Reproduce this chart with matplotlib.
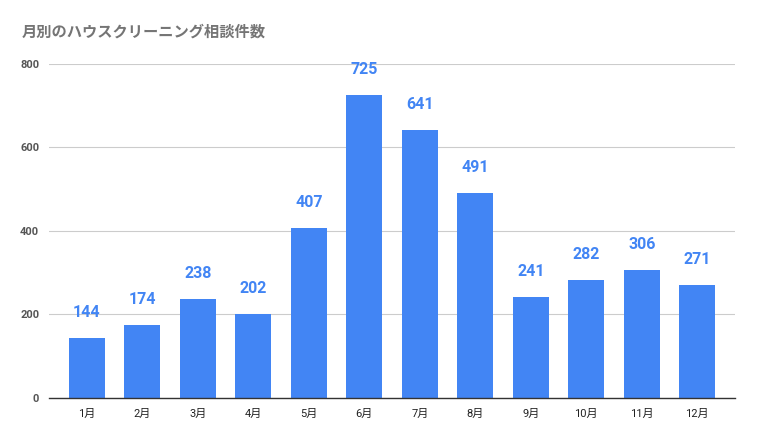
import matplotlib.pyplot as plt
import numpy as np

plt.rcParams['font.family'] = ['Roboto', 'Noto Sans CJK JP', 'DejaVu Sans']

# Data
months = ['1月', '2月', '3月', '4月', '5月', '6月', '7月', '8月', '9月', '10月', '11月', '12月']
counts = [144, 174, 238, 202, 407, 725, 641, 491, 241, 282, 306, 271]
y_ticks = [0, 200, 400, 600, 800]

bar_color = '#4285F4'

fig = plt.figure(figsize=(7.58, 4.41), dpi=100)
ax = fig.add_axes([0.0646, 0.0975, 0.9051, 0.7575])

x = np.arange(len(months))
bars = ax.bar(x, counts, width=0.65, color=bar_color, zorder=3)

# value labels above bars
for xi, v in zip(x, counts):
    ax.annotate(str(v), (xi, v), xytext=(0, 13), textcoords='offset points',
                ha='center', va='bottom', fontsize=11.5, fontweight='bold',
                color=bar_color)

ax.set_xlim(-0.685, 11.68)
ax.set_ylim(0, 800)
ax.set_xticks(x)
ax.set_xticklabels(months, fontsize=8, color='#222222')
ax.set_yticks(y_ticks)
ax.set_yticklabels([str(t) for t in y_ticks], fontsize=8, fontweight='bold',
                   color='#555555')
ax.tick_params(axis='both', length=0)
ax.tick_params(axis='x', pad=8)
ax.tick_params(axis='y', pad=7)

ax.grid(axis='y', color='#cccccc', linewidth=0.8, zorder=0)
for side in ['top', 'right', 'left']:
    ax.spines[side].set_visible(False)
ax.spines['bottom'].set_color('#333333')
ax.spines['bottom'].set_linewidth(1)
ax.spines['bottom'].set_zorder(4)

fig.text(0.029, 0.927, '月別のハウスクリーニング相談件数', fontsize=11,
         fontweight='bold', color='#757575', ha='left', va='center')

plt.savefig('out.png', dpi=100, facecolor='white')
